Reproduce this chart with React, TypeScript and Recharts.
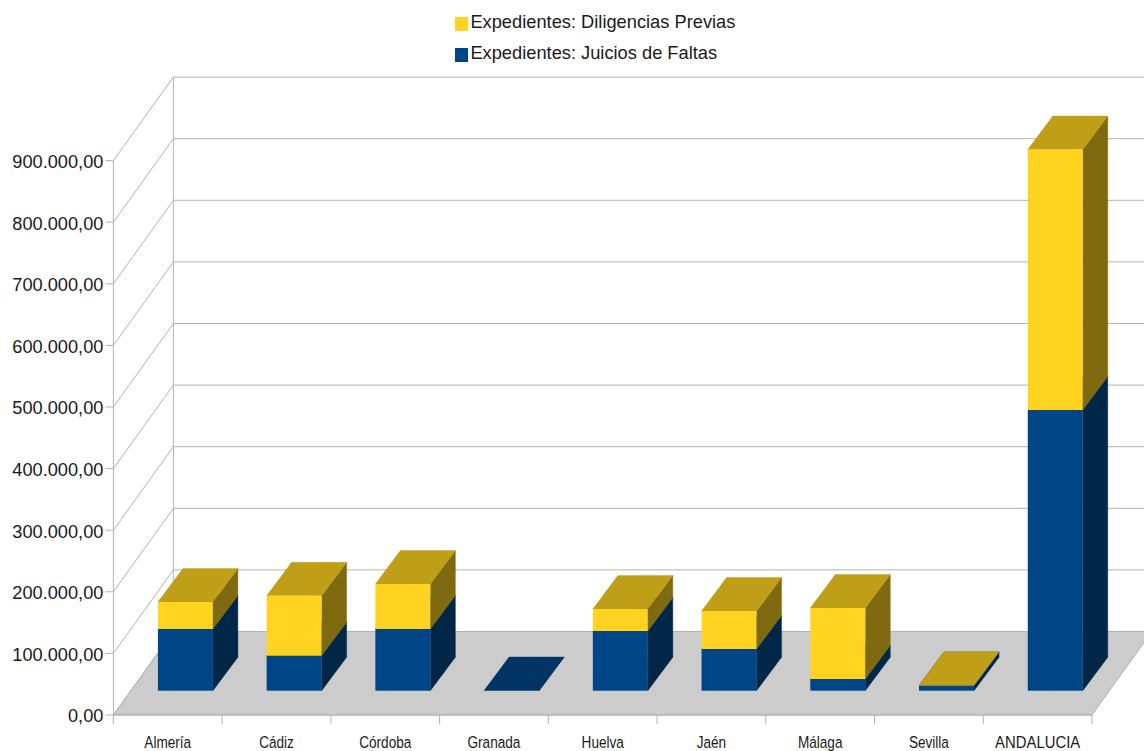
import { BarChart, Bar, XAxis, YAxis, CartesianGrid } from "recharts";

const categories = ["Almería", "Cádiz", "Córdoba", "Granada", "Huelva", "Jaén", "Málaga", "Sevilla", "ANDALUCIA"];
const juicios = [100200, 56800, 100200, 300, 96900, 67700, 19000, 8600, 455700];
const diligencias = [43800, 97400, 73000, 0, 35700, 61700, 115300, 300, 422800];
const yTicks = [0, 100000, 200000, 300000, 400000, 500000, 600000, 700000, 800000, 900000];

const NAME_DILIGENCIAS = "Expedientes: Diligencias Previas";
const NAME_JUICIOS = "Expedientes: Juicios de Faltas";

const data = categories.map((name, i) => ({ name, juicios: juicios[i], diligencias: diligencias[i] }));

const FONT = '"Liberation Sans", Arial, sans-serif';
const GRID = "#b3b3b3";
const WIDTH = 1144;
const HEIGHT = 751;
const LEFT = 113.4;
const RIGHT = 1092;
const TOP = 160.6;
const BOTTOM = 715;
const STEP = (RIGHT - LEFT) / categories.length;
// perspective offsets: wall depth, bar inset from the front plane, bar depth
const WALL = { dx: 60, dy: -83.5 };
const INSET = { dx: 17.5, dy: -24.3 };
const DEPTH = { dx: 25, dy: -33.5 };

const fmt = (v: number) => v.toLocaleString("de-DE", { minimumFractionDigits: 2, maximumFractionDigits: 2 });

function makeBox(colors: { front: string; side: string; top: string }) {
  return function Box(props: any) {
    const { x, y, width, height } = props;
    if (!(height > 0)) return <g />;
    const l = x + INSET.dx;
    const r = l + width;
    const t = y + INSET.dy;
    const b = t + height;
    const { dx, dy } = DEPTH;
    return (
      <g>
        <polygon
          points={`${r},${t} ${r + dx},${t + dy} ${r + dx},${b + dy} ${r},${b}`}
          fill={colors.side}
          stroke={colors.side}
          strokeWidth={0.4}
        />
        <polygon
          points={`${l},${t} ${l + dx},${t + dy} ${r + dx},${t + dy} ${r},${t}`}
          fill={colors.top}
          stroke={colors.top}
          strokeWidth={0.4}
        />
        <rect x={l} y={t} width={width} height={height} fill={colors.front} />
      </g>
    );
  };
}

const BlueBox = makeBox({ front: "#004586", side: "#002747", top: "#003464" });
const YellowBox = makeBox({ front: "#ffd320", side: "#806a10", top: "#bf9f18" });

function GridLine(props: any) {
  const { x1, x2, y1 } = props;
  const backY = y1 + WALL.dy;
  const isFloor = Math.abs(y1 - BOTTOM) < 1;
  return (
    <g>
      {isFloor && (
        <polygon
          points={`${x1},${y1} ${x2},${y1} ${x2 + WALL.dx},${backY} ${x1 + WALL.dx},${backY}`}
          fill="#cccccc"
          stroke={GRID}
          strokeWidth={1}
        />
      )}
      {isFloor && (
        <line x1={x1 + WALL.dx} y1={backY} x2={x1 + WALL.dx} y2={TOP + WALL.dy} stroke={GRID} strokeWidth={1} />
      )}
      <line x1={x1} y1={y1} x2={x1 + WALL.dx} y2={backY} stroke={GRID} strokeWidth={1} />
      <line x1={x1 + WALL.dx} y1={backY} x2={x2 + WALL.dx} y2={backY} stroke={GRID} strokeWidth={1} />
    </g>
  );
}

function CategoryTick(props: any) {
  const { x, payload, index } = props;
  // reference labels are squeezed horizontally, capitals a bit less
  const squeeze = payload.value === payload.value.toUpperCase() ? 0.875 : 0.8;
  return (
    <g>
      {index === 0 && <line x1={x - STEP / 2} y1={BOTTOM} x2={x - STEP / 2} y2={BOTTOM + 9} stroke={GRID} />}
      <line x1={x + STEP / 2} y1={BOTTOM} x2={x + STEP / 2} y2={BOTTOM + 9} stroke={GRID} />
      <g transform={`translate(${x},748) scale(${squeeze},1)`}>
        <text textAnchor="middle" fontFamily={FONT} fontSize={17} fill="#1a1a1a">
          {payload.value}
        </text>
      </g>
    </g>
  );
}

function LegendRow({ color, label, top }: { color: string; label: string; top: number }) {
  return (
    <>
      <div style={{ position: "absolute", left: 455, top: top + 5, width: 13, height: 14, background: color }} />
      <div
        style={{
          position: "absolute",
          left: 470.4,
          top,
          fontFamily: FONT,
          fontSize: 18.27,
          lineHeight: "20px",
          color: "#1a1a1a",
          whiteSpace: "nowrap",
        }}
      >
        {label}
      </div>
    </>
  );
}

export default function App() {
  return (
    <div style={{ position: "absolute", left: 0, top: 0, width: WIDTH, height: HEIGHT, background: "#fff", overflow: "hidden" }}>
      <BarChart
        width={WIDTH}
        height={HEIGHT}
        data={data}
        barSize={55}
        margin={{ top: TOP, right: WIDTH - RIGHT, bottom: 0, left: 0 }}
      >
        <CartesianGrid vertical={false} horizontal={GridLine} />
        <XAxis
          dataKey="name"
          interval={0}
          axisLine={{ stroke: GRID }}
          tickLine={false}
          tick={CategoryTick}
          height={HEIGHT - BOTTOM}
        />
        <YAxis
          width={LEFT}
          domain={[0, 900000]}
          ticks={yTicks}
          tickFormatter={fmt}
          interval={0}
          axisLine={{ stroke: GRID }}
          tickLine={{ stroke: GRID }}
          tickSize={8}
          tickMargin={2}
          tick={{ fontFamily: FONT, fontSize: 18.2, fill: "#1a1a1a", dy: 1 }}
        />
        <Bar dataKey="juicios" stackId="a" shape={BlueBox} isAnimationActive={false} />
        <Bar dataKey="diligencias" stackId="a" shape={YellowBox} isAnimationActive={false} />
      </BarChart>
      <LegendRow color="#ffd320" label={NAME_DILIGENCIAS} top={12} />
      <LegendRow color="#004586" label={NAME_JUICIOS} top={43} />
    </div>
  );
}
